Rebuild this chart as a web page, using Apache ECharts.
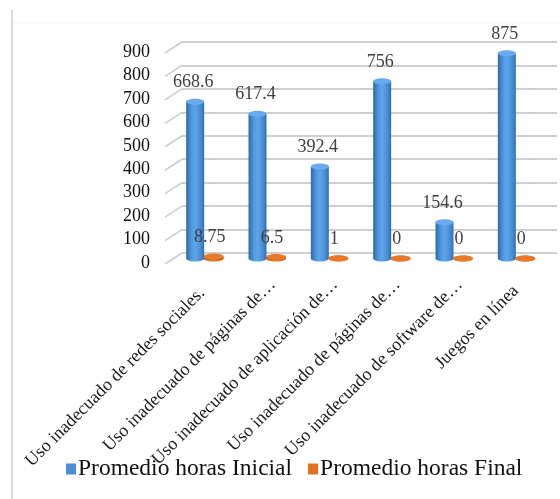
<!DOCTYPE html>
<html>
<head>
<meta charset="utf-8">
<script src="https://cdn.jsdelivr.net/npm/echarts@6/dist/echarts.min.js"></script>
<style>
  html, body { margin: 0; padding: 0; background: #ffffff; }
  #chart { width: 560px; height: 499px; }
</style>
</head>
<body>
<div id="chart"></div>
<script>
// Categories (long names are cut with an ellipsis on the axis)
const categories = [
  'Uso inadecuado de redes sociales.',
  'Uso inadecuado de páginas de…',
  'Uso inadecuado de aplicación de…',
  'Uso inadecuado de páginas de…',
  'Uso inadecuado de software de…',
  'Juegos en línea'
];
const seriesNames = ['Promedio horas Inicial', 'Promedio horas Final'];
const horasInicial = [668.6, 617.4, 392.4, 756, 154.6, 875];
const horasFinal = [8.75, 6.5, 1, 0, 0, 0];
const yTicks = [0, 100, 200, 300, 400, 500, 600, 700, 800, 900];

const FONT = 'Liberation Serif';

function toPairs(values) {
  return values.map(function (v, i) { return [i, v]; });
}

// Draws a cylinder (body + bottom/top ellipses) with its value label above it
function cylinderRenderer(offsetX, width, bodyStops, capColor, labelDx) {
  return function (params, api) {
    const idx = api.value(0);
    const v = api.value(1);
    const base = api.coord([idx, 0]);
    const top = api.coord([idx, v]);
    const cx = base[0] + offsetX;
    const rx = width / 2;
    const ry = 3;
    const fill = { type: 'linear', x: 0, y: 0, x2: 1, y2: 0, colorStops: bodyStops };
    return {
      type: 'group',
      children: [
        { type: 'ellipse', shape: { cx: cx, cy: base[1], rx: rx, ry: ry }, style: { fill: fill } },
        { type: 'rect', shape: { x: cx - rx, y: top[1], width: width, height: base[1] - top[1] }, style: { fill: fill } },
        { type: 'ellipse', shape: { cx: cx, cy: top[1], rx: rx, ry: ry }, style: { fill: capColor } },
        {
          type: 'text',
          style: {
            text: String(v),
            x: cx + labelDx,
            y: top[1] - 19,
            align: 'center',
            verticalAlign: 'middle',
            fontFamily: FONT,
            fontSize: 18,
            fill: '#404040'
          }
        }
      ]
    };
  };
}

const blueStops = [
  { offset: 0, color: '#2c69ad' },
  { offset: 0.3, color: '#5198de' },
  { offset: 0.5, color: '#5ea6e8' },
  { offset: 0.8, color: '#498dd5' },
  { offset: 1, color: '#306eb4' }
];
const orangeStops = [
  { offset: 0, color: '#b9531a' },
  { offset: 0.45, color: '#ec7a2c' },
  { offset: 1, color: '#c65b1c' }
];

// extra room after a category label, pushing it down along its slant
const labelShift = [12, 0, 0, 0, 0, 9];

const chart = echarts.init(document.getElementById('chart'), null, { renderer: 'canvas' });

chart.setOption({
  animation: false,
  backgroundColor: '#ffffff',
  color: ['#4a8fd8', '#e4701f'],
  graphic: [
    { type: 'line', shape: { x1: 12, y1: 10, x2: 12, y2: 499 }, style: { stroke: '#d9d9d9', lineWidth: 2 } },
    { type: 'line', shape: { x1: 13, y1: 23, x2: 560, y2: 23 }, style: { stroke: '#f3f3f3', lineWidth: 1 } }
  ],
  grid: [
    // middle plane: bars and category labels
    { left: 173, right: 13, top: 47.5, bottom: 240.5 },
    // back wall: gridlines
    { left: 182, right: 3, top: 42, bottom: 246 },
    // front edge: value axis labels
    { left: 173, right: 13, top: 52, bottom: 236 }
  ],
  xAxis: [
    {
      type: 'category',
      gridIndex: 0,
      data: categories,
      axisLine: { show: false },
      axisTick: { show: false },
      axisLabel: {
        rotate: 45,
        margin: 17,
        interval: 0,
        verticalAlign: 'top',
        fontFamily: FONT,
        fontSize: 18,
        color: '#1a1a1a',
        formatter: function (value, index) {
          return '{s' + index + '|' + value + '}';
        },
        rich: labelShift.reduce(function (acc, pad, i) {
          acc['s' + i] = {
            fontFamily: FONT,
            fontSize: 18,
            color: '#1a1a1a',
            padding: [0, pad, 0, 0]
          };
          return acc;
        }, {})
      }
    },
    { type: 'value', gridIndex: 1, min: 0, max: 1, show: false },
    { type: 'value', gridIndex: 2, min: 0, max: 1, show: false }
  ],
  yAxis: [
    {
      type: 'value',
      gridIndex: 0,
      min: 0,
      max: 900,
      interval: 100,
      show: false
    },
    {
      type: 'value',
      gridIndex: 1,
      min: 0,
      max: 900,
      interval: 100,
      axisLine: { show: false },
      axisTick: { show: false },
      axisLabel: { show: false },
      splitLine: { show: true, lineStyle: { color: '#cecece', width: 1.8 } }
    },
    {
      type: 'value',
      gridIndex: 2,
      min: 0,
      max: 900,
      interval: 100,
      axisLine: { show: false },
      axisTick: { show: false },
      splitLine: { show: false },
      axisLabel: {
        margin: 23,
        fontFamily: FONT,
        fontSize: 18,
        color: '#111111'
      }
    }
  ],
  legend: {
    left: 61,
    top: 452,
    itemWidth: 10,
    itemHeight: 11,
    itemGap: 16,
    icon: 'rect',
    textStyle: { fontFamily: FONT, fontSize: 23.5, color: '#111111', padding: [0, 0, 0, -3] },
    data: seriesNames
  },
  series: [
    {
      // short floor diagonals joining each tick to the back wall
      type: 'custom',
      xAxisIndex: 1,
      yAxisIndex: 1,
      silent: true,
      z: 1,
      data: yTicks.map(function (t) { return [0, t]; }),
      encode: { x: 0, y: 1 },
      renderItem: function (params, api) {
        const p = api.coord([0, api.value(1)]);
        return {
          type: 'line',
          shape: { x1: p[0], y1: p[1], x2: p[0] - 17, y2: p[1] + 11 },
          style: { stroke: '#cccccc', lineWidth: 1.6 }
        };
      }
    },
    {
      name: seriesNames[0],
      type: 'custom',
      xAxisIndex: 0,
      yAxisIndex: 0,
      z: 3,
      itemStyle: { color: '#4a8fd8' },
      data: toPairs(horasInicial),
      encode: { x: 0, y: 1 },
      renderItem: cylinderRenderer(-9, 18, blueStops, '#69abee', -2)
    },
    {
      name: seriesNames[1],
      type: 'custom',
      xAxisIndex: 0,
      yAxisIndex: 0,
      z: 4,
      itemStyle: { color: '#e4701f' },
      data: toPairs(horasFinal),
      encode: { x: 0, y: 1 },
      renderItem: cylinderRenderer(9.5, 20, orangeStops, '#e8782a', -4)
    }
  ]
});
</script>
</body>
</html>
